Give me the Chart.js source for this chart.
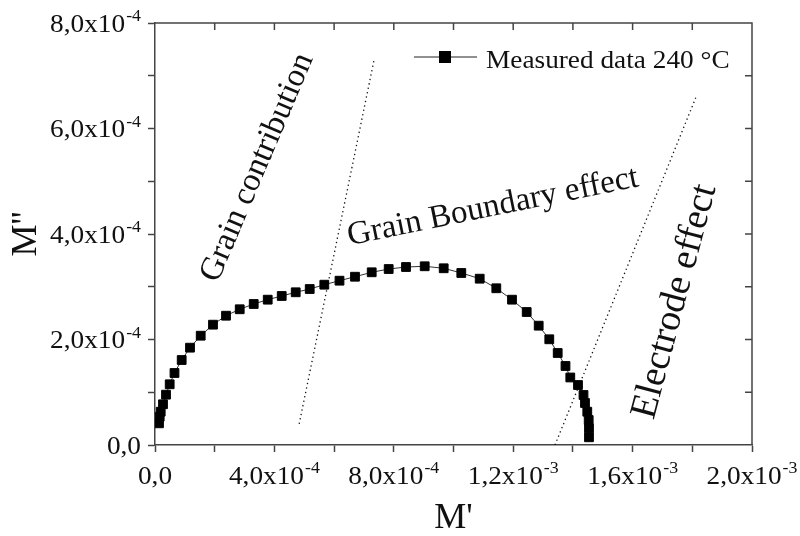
<!DOCTYPE html>
<html>
<head>
<meta charset="utf-8">
<title>Electric modulus plot</title>
<script src="https://cdn.jsdelivr.net/npm/chart.js@4.4.1/dist/chart.umd.min.js"></script>
<style>
  html, body { margin: 0; padding: 0; background: #fff; }
  #wrap { position: relative; width: 800px; height: 536px; }
</style>
</head>
<body>
<div id="wrap"><canvas id="modulus"></canvas></div>
<script>
// all values are in units of 1e-4 (axes run 0..20 and 0..8 in those units)
const mReal = [0.134, 0.157, 0.191, 0.268, 0.369, 0.492, 0.653, 0.894, 1.173, 1.531,
  1.943, 2.379, 2.838, 3.307, 3.776, 4.245, 4.714, 5.183, 5.672, 6.181,
  6.700, 7.260, 7.829, 8.409, 9.035, 9.672, 10.261, 10.878, 11.434, 11.960,
  12.452, 12.854, 13.209, 13.491, 13.752, 13.913, 14.171, 14.355, 14.405, 14.482,
  14.529, 14.539, 14.539];
const mImag = [0.411, 0.536, 0.631, 0.772, 0.954, 1.151, 1.365, 1.611, 1.845, 2.072,
  2.281, 2.451, 2.573, 2.673, 2.755, 2.825, 2.895, 2.957, 3.039, 3.115,
  3.190, 3.274, 3.336, 3.374, 3.388, 3.350, 3.261, 3.153, 2.971, 2.755,
  2.521, 2.262, 2.004, 1.744, 1.498, 1.280, 1.137, 0.948, 0.796, 0.631,
  0.474, 0.317, 0.146];

// dotted separators between the regions
const sep1X = [4.83, 7.35];
const sep1Y = [0.40, 7.33];
const sep2X = [13.40, 18.12];
const sep2Y = [0.00, 6.59];

const xTickVals = [0, 4, 8, 12, 16, 20];
const xTickText = ['0,0', '4,0x10', '8,0x10', '1,2x10', '1,6x10', '2,0x10'];
const xTickExp = ['', '-4', '-4', '-3', '-3', '-3'];
const yTickVals = [0, 2, 4, 6, 8];
const yTickText = ['0,0', '2,0x10', '4,0x10', '6,0x10', '8,0x10'];
const yTickExp = ['', '-4', '-4', '-4', '-4'];

const seriesLabel = 'Measured data 240 °C';

const notes = [
  { text: 'Grain contribution', x: 3.43, y: 5.26, angle: -67, size: 33 },
  { text: 'Grain Boundary effect', x: 11.32, y: 4.51, angle: -11.5, size: 33 },
  { text: 'Electrode effect', x: 17.42, y: 2.72, angle: -75, size: 38 }
];

const SERIF = '"Liberation Serif", "Times New Roman", serif';
const AXIS = '#444';
const STRETCH = 1.05; // the source figure is slightly wider than tall in its lettering

function xy(xs, ys) {
  return xs.map((v, i) => ({ x: v, y: ys[i] }));
}

// number with a raised exponent, like 4,0x10^-4
function drawSci(ctx, main, exp, x, base, align) {
  ctx.font = '26px ' + SERIF;
  const w1 = ctx.measureText(main).width * STRETCH;
  ctx.font = '17px ' + SERIF;
  const w2 = exp ? ctx.measureText(exp).width * STRETCH + 1 : 0;
  const x0 = align === 'right' ? x - w1 - w2 : x - (w1 + w2) / 2;
  ctx.save();
  ctx.translate(x0, base);
  ctx.scale(STRETCH, 1);
  ctx.textAlign = 'left';
  ctx.textBaseline = 'alphabetic';
  ctx.font = '26px ' + SERIF;
  ctx.fillText(main, 0, 0);
  if (exp) {
    ctx.font = '17px ' + SERIF;
    ctx.fillText(exp, (w1 + 1) / STRETCH, -10.5);
  }
  ctx.restore();
}

const decorations = {
  id: 'decorations',
  afterDraw(chart) {
    const ctx = chart.ctx;
    const ca = chart.chartArea;
    const xs = chart.scales.x, ys = chart.scales.y;
    ctx.save();

    // top and right frame with inward ticks
    ctx.strokeStyle = AXIS;
    ctx.lineWidth = 1.5;
    ctx.beginPath();
    ctx.moveTo(ca.left, ca.top);
    ctx.lineTo(ca.right, ca.top);
    ctx.lineTo(ca.right, ca.bottom);
    ctx.stroke();
    ctx.beginPath();
    xs.ticks.forEach(t => {
      const p = xs.getPixelForValue(t.value);
      if (p <= ca.left + 1 || p >= ca.right - 1) return;
      ctx.moveTo(p, ca.top);
      ctx.lineTo(p, ca.top + 7);
    });
    ys.ticks.forEach(t => {
      const p = ys.getPixelForValue(t.value);
      if (p <= ca.top + 1 || p >= ca.bottom - 1) return;
      ctx.moveTo(ca.right, p);
      ctx.lineTo(ca.right - 7, p);
    });
    ctx.stroke();

    // tick labels
    ctx.fillStyle = '#111';
    xTickVals.forEach((v, i) => {
      drawSci(ctx, xTickText[i], xTickExp[i], xs.getPixelForValue(v), ca.bottom + 38.5, 'center');
    });
    yTickVals.forEach((v, i) => {
      drawSci(ctx, yTickText[i], yTickExp[i], ca.left - 14, ys.getPixelForValue(v) + 8.6, 'right');
    });

    // region labels
    notes.forEach(n => {
      ctx.save();
      ctx.translate(xs.getPixelForValue(n.x), ys.getPixelForValue(n.y));
      ctx.rotate(n.angle * Math.PI / 180);
      ctx.font = n.size + 'px ' + SERIF;
      ctx.textAlign = 'center';
      ctx.textBaseline = 'middle';
      ctx.fillText(n.text, 0, 0);
      ctx.restore();
    });

    // legend, line - square - line
    const lx = ca.right - 338;
    const ly = ca.top + 34;
    ctx.strokeStyle = '#222';
    ctx.lineWidth = 1.2;
    ctx.beginPath();
    ctx.moveTo(lx, ly);
    ctx.lineTo(lx + 63, ly);
    ctx.stroke();
    ctx.fillStyle = '#000';
    ctx.fillRect(lx + 25, ly - 6, 12, 12);
    ctx.fillStyle = '#111';
    ctx.save();
    ctx.translate(lx + 72, ly + 11);
    ctx.scale(STRETCH, 1);
    ctx.font = '26px ' + SERIF;
    ctx.textAlign = 'left';
    ctx.textBaseline = 'alphabetic';
    ctx.fillText(chart.data.datasets[0].label, 0, 0);
    ctx.restore();

    ctx.restore();
  }
};

const ctx = document.getElementById('modulus').getContext('2d');
const chart = new Chart(ctx, {
  type: 'scatter',
  data: {
    datasets: [{
      label: seriesLabel,
      data: xy(mReal, mImag),
      showLine: true,
      borderColor: '#333',
      borderWidth: 1,
      pointStyle: 'rect',
      pointRadius: 6.2,
      pointHoverRadius: 6.2,
      pointBackgroundColor: '#000',
      pointBorderColor: '#000',
      pointBorderWidth: 1
    },
    {
      label: 'grain / grain boundary',
      data: xy(sep1X, sep1Y),
      showLine: true,
      borderColor: '#111',
      borderWidth: 1.3,
      borderDash: [1.3, 3.2],
      pointRadius: 0
    },
    {
      label: 'grain boundary / electrode',
      data: xy(sep2X, sep2Y),
      showLine: true,
      borderColor: '#111',
      borderWidth: 1.3,
      borderDash: [1.3, 3.2],
      pointRadius: 0
    }]
  },
  options: {
    responsive: true,
    maintainAspectRatio: false,
    animation: false,
    layout: { padding: { left: 0, top: 23, right: 48, bottom: 0 } },
    plugins: {
      legend: { display: false },
      tooltip: { enabled: false }
    },
    scales: {
      x: {
        type: 'linear',
        min: 0,
        max: 20,
        ticks: { stepSize: 2, display: false },
        grid: { drawOnChartArea: false, tickLength: 7, tickColor: AXIS, tickWidth: 1.5 },
        border: { color: AXIS, width: 1.5 },
        title: {
          display: true,
          text: "M'",
          color: '#111',
          font: { family: SERIF, size: 36, lineHeight: 0.9 },
          padding: { top: 0, bottom: 1 }
        },
        afterFit: s => { s.height = 91; }
      },
      y: {
        type: 'linear',
        min: 0,
        max: 8,
        ticks: { stepSize: 1, display: false },
        grid: { drawOnChartArea: false, tickLength: 7, tickColor: AXIS, tickWidth: 1.5 },
        border: { color: AXIS, width: 1.5 },
        title: {
          display: true,
          text: "M''",
          color: '#111',
          font: { family: SERIF, size: 36, lineHeight: 0.9 },
          padding: { top: 10, bottom: 0 }
        },
        afterFit: s => { s.width = 155; }
      }
    }
  },
  plugins: [decorations]
});
</script>
</body>
</html>
